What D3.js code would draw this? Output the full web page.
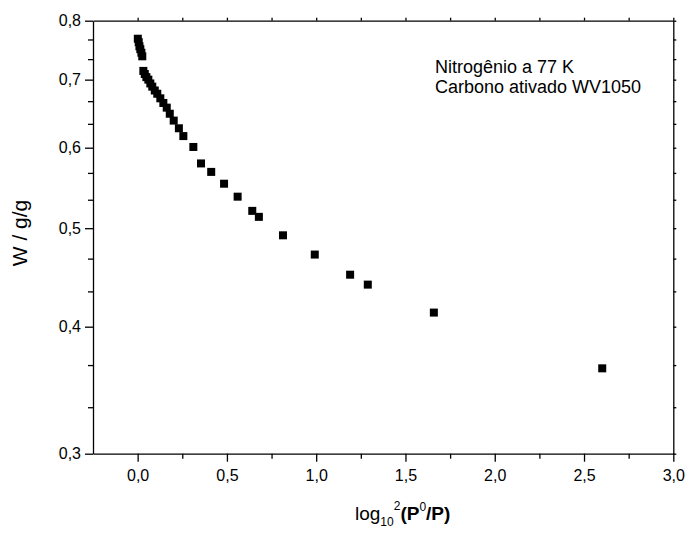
<!DOCTYPE html>
<html>
<head>
<meta charset="utf-8">
<script src="https://cdn.jsdelivr.net/npm/d3@7"></script>
<style>
  body { margin: 0; background: #fff; }
  text { font-family: "Liberation Sans", Arial, sans-serif; fill: #000; }
</style>
</head>
<body>
<div id="chart"></div>
<script>
// adsorption data, x = log10^2(P0/P), w = W (g/g)
const xValues = [0.001, 0.006, 0.010, 0.015, 0.021, 0.026,
  0.032, 0.040, 0.049, 0.060, 0.071, 0.082, 0.096, 0.110, 0.127, 0.144,
  0.163, 0.180, 0.202, 0.231, 0.256, 0.312, 0.355, 0.412, 0.484, 0.560,
  0.642, 0.679, 0.814, 0.992, 1.190, 1.289, 1.659, 2.602];
const wValues = [0.768, 0.762, 0.755, 0.750, 0.744, 0.738,
  0.714, 0.709, 0.704, 0.700, 0.694, 0.689, 0.683, 0.678, 0.671, 0.664,
  0.657, 0.648, 0.638, 0.627, 0.616, 0.601, 0.579, 0.568, 0.553, 0.537,
  0.520, 0.513, 0.492, 0.471, 0.450, 0.440, 0.413, 0.364];

const xTicks = [0, 0.5, 1, 1.5, 2, 2.5, 3];
const xMinorTicks = [0.25, 0.75, 1.25, 1.75, 2.25, 2.75];
const yTicks = [0.3, 0.4, 0.5, 0.6, 0.7, 0.8];
const yMinorTicks = [0.3333, 0.3667, 0.4333, 0.4667, 0.5333, 0.5667,
  0.6333, 0.6667, 0.7333, 0.7667];
const legendLines = ["Nitrogênio a 77 K", "Carbono ativado WV1050"];

const width = 687, height = 535;
const margin = { top: 20.7, right: 13.7, bottom: 81.3, left: 93 };

const svg = d3.select("#chart").append("svg")
  .attr("width", width)
  .attr("height", height);

const x = d3.scaleLinear().domain([-0.25, 3.0])
  .range([margin.left, width - margin.right]);
const y = d3.scaleLog().domain([0.3, 0.8])
  .range([height - margin.bottom, margin.top]);

// comma as decimal mark
const fmt = d3.formatLocale({ decimal: ",", thousands: ".", grouping: [3], currency: ["", ""] }).format(".1f");

// bottom axis
svg.append("g")
  .attr("transform", `translate(0,${y.range()[0]})`)
  .call(d3.axisBottom(x).tickValues(xMinorTicks).tickSize(5).tickFormat(""))
  .call(g => g.select(".domain").remove());
const xAxis = svg.append("g")
  .attr("transform", `translate(0,${y.range()[0]})`)
  .call(d3.axisBottom(x).tickValues(xTicks).tickSize(8).tickSizeOuter(0).tickPadding(8).tickFormat(fmt));

// left axis
svg.append("g")
  .attr("transform", `translate(${margin.left},0)`)
  .call(d3.axisLeft(y).tickValues(yMinorTicks).tickSize(5).tickFormat(""))
  .call(g => g.select(".domain").remove());
const yAxis = svg.append("g")
  .attr("transform", `translate(${margin.left},0)`)
  .call(d3.axisLeft(y).tickValues(yTicks).tickSize(8).tickSizeOuter(0).tickPadding(4).tickFormat(fmt));

// top and right mirror axes, short ticks, no labels
svg.append("g")
  .attr("transform", `translate(0,${margin.top})`)
  .call(d3.axisTop(x).tickValues(xTicks.concat(xMinorTicks)).tickSize(3).tickSizeOuter(0).tickFormat(""));
svg.append("g")
  .attr("transform", `translate(${width - margin.right},0)`)
  .call(d3.axisRight(y).tickValues(yTicks.concat(yMinorTicks)).tickSize(3).tickSizeOuter(0).tickFormat(""));

svg.selectAll(".domain, .tick line").attr("stroke", "#000").attr("stroke-width", 1.3);
svg.selectAll(".tick text")
  .attr("font-size", 16)
  .attr("font-family", "'Liberation Sans', Arial, sans-serif")
  .attr("fill", "#000");

// data points
svg.append("g")
  .selectAll("rect")
  .data(xValues.map((v, i) => [v, wValues[i]]))
  .join("rect")
  .attr("x", d => x(d[0]) - 4)
  .attr("y", d => y(d[1]) - 4)
  .attr("width", 8)
  .attr("height", 8)
  .attr("fill", "#000");

// legend text
svg.append("g")
  .selectAll("text")
  .data(legendLines)
  .join("text")
  .attr("x", 435)
  .attr("y", (d, i) => 72.7 + i * 20)
  .attr("font-size", 18)
  .text(d => d);

// y label
svg.append("text")
  .attr("transform", "translate(27,233) rotate(-90)")
  .attr("text-anchor", "middle")
  .attr("font-size", 21)
  .text("W / g/g");

// x label: log10^2(P0/P)
const xl = svg.append("text")
  .attr("x", 355)
  .attr("y", 520)
  .attr("font-size", 19);
xl.append("tspan").text("log");
xl.append("tspan").attr("font-size", 12).attr("dy", 6).text("10");
xl.append("tspan").attr("font-size", 12).attr("dy", -16).text("2");
xl.append("tspan").attr("font-weight", "bold").attr("dy", 10).text("(P");
xl.append("tspan").attr("font-size", 12).attr("dy", -9).text("0");
xl.append("tspan").attr("font-weight", "bold").attr("dy", 9).text("/P)");
</script>
</body>
</html>
